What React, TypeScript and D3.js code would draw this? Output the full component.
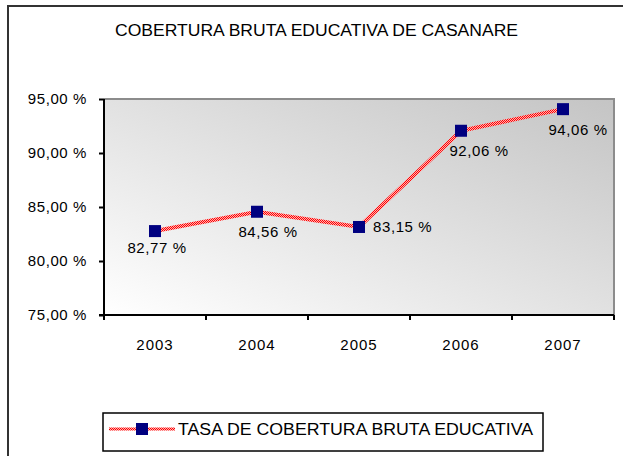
import { useEffect, useRef } from 'react';
import * as d3 from 'd3';

const years = ['2003', '2004', '2005', '2006', '2007'];
const coverage = [82.77, 84.56, 83.15, 92.06, 94.06];
const yTicks = [75, 80, 85, 90, 95];
const title = 'COBERTURA BRUTA EDUCATIVA DE CASANARE';
const seriesName = 'TASA DE COBERTURA BRUTA EDUCATIVA';

// label placement relative to each point (Excel labels were dragged by hand)
const labelOffsets = [
  { dx: 2, dy: 17, anchor: 'middle' },
  { dx: 11, dy: 20, anchor: 'middle' },
  { dx: 14, dy: 0, anchor: 'start' },
  { dx: 18, dy: 20, anchor: 'middle' },
  { dx: 15, dy: 21, anchor: 'middle' },
];

const pct = (v: number) => v.toFixed(2).replace('.', ',') + ' %';

export default function App() {
  const svgRef = useRef<SVGSVGElement>(null);

  useEffect(() => {
    if (!svgRef.current) return;
    const width = 623;
    const height = 456;
    const plot = { left: 104, right: 614, top: 99, bottom: 315 };
    const font = "Arial, 'Liberation Sans', sans-serif";

    const svg = d3.select(svgRef.current);
    svg.selectAll('*').remove();

    const defs = svg.append('defs');
    const grad = defs
      .append('linearGradient')
      .attr('id', 'plotBg')
      .attr('x1', 0)
      .attr('y1', 1)
      .attr('x2', 1)
      .attr('y2', 0);
    grad.append('stop').attr('offset', '0%').attr('stop-color', '#ffffff');
    grad.append('stop').attr('offset', '100%').attr('stop-color', '#c4c4c4');

    const pat = defs
      .append('pattern')
      .attr('id', 'redDither')
      .attr('patternUnits', 'userSpaceOnUse')
      .attr('width', 2)
      .attr('height', 2);
    pat.append('rect').attr('width', 2).attr('height', 2).attr('fill', '#ffb0b0');
    pat.append('rect').attr('width', 1).attr('height', 1).attr('fill', '#ff0000');
    pat.append('rect').attr('x', 1).attr('y', 1).attr('width', 1).attr('height', 1).attr('fill', '#ff0000');

    svg.append('rect').attr('width', width).attr('height', height).attr('fill', '#ffffff');

    // outer chart border (continues past the right and bottom of the image)
    svg
      .append('rect')
      .attr('x', 8)
      .attr('y', 6)
      .attr('width', width + 10)
      .attr('height', height + 10)
      .attr('fill', 'none')
      .attr('stroke', '#333')
      .attr('stroke-width', 2);

    svg
      .append('text')
      .attr('x', 115)
      .attr('y', 36)
      .attr('textLength', 403)
      .attr('lengthAdjust', 'spacingAndGlyphs')
      .attr('font-family', font)
      .attr('font-size', 16)
      .attr('fill', '#000')
      .text(title);

    const x = d3.scaleBand<string>().domain(years).range([plot.left, plot.right]).padding(0);
    const y = d3.scaleLinear().domain([75, 95]).range([plot.bottom, plot.top]);
    const cx = (d: string) => (x(d) ?? 0) + x.bandwidth() / 2;

    svg
      .append('rect')
      .attr('x', plot.left)
      .attr('y', plot.top)
      .attr('width', plot.right - plot.left)
      .attr('height', plot.bottom - plot.top)
      .attr('fill', 'url(#plotBg)');

    // top and right frame of the plot area
    svg
      .append('path')
      .attr('d', `M${plot.left},${plot.top}H${plot.right}V${plot.bottom}`)
      .attr('fill', 'none')
      .attr('stroke', '#8c8c8c')
      .attr('stroke-width', 2);

    const yAxis = svg
      .append('g')
      .attr('transform', `translate(${plot.left},0)`)
      .call(d3.axisLeft(y).tickValues(yTicks).tickSize(5).tickPadding(12).tickFormat((d) => pct(d as number)));
    yAxis.select('.domain').attr('stroke', '#000').attr('stroke-width', 2).attr('d', `M0,${plot.top}V${plot.bottom + 5}`);
    yAxis.selectAll('.tick line').attr('stroke', '#000').attr('stroke-width', 2);
    yAxis
      .selectAll('.tick text')
      .attr('font-family', font)
      .attr('font-size', 15)
      .attr('letter-spacing', 0.6)
      .attr('fill', '#000');

    const xAxis = svg
      .append('g')
      .attr('transform', `translate(0,${plot.bottom})`)
      .call(d3.axisBottom(x).tickSize(0).tickPadding(24));
    xAxis.select('.domain').attr('stroke', '#000').attr('stroke-width', 2).attr('d', `M${plot.left - 5},0H${plot.right}`);
    xAxis
      .selectAll('.tick text')
      .attr('font-family', font)
      .attr('font-size', 15)
      .attr('letter-spacing', 1)
      .attr('fill', '#000');
    xAxis
      .selectAll('line.boundary')
      .data([...years.map((d) => x(d) ?? 0), plot.right])
      .enter()
      .append('line')
      .attr('class', 'boundary')
      .attr('x1', (d) => d)
      .attr('x2', (d) => d)
      .attr('y1', 0)
      .attr('y2', 5)
      .attr('stroke', '#000')
      .attr('stroke-width', 2);

    const line = d3
      .line<number>()
      .x((_, i) => cx(years[i]))
      .y((d) => y(d));

    svg
      .append('path')
      .datum(coverage)
      .attr('d', line)
      .attr('fill', 'none')
      .attr('stroke', 'url(#redDither)')
      .attr('stroke-width', 4);

    svg
      .selectAll('rect.marker')
      .data(coverage)
      .enter()
      .append('rect')
      .attr('class', 'marker')
      .attr('x', (_, i) => cx(years[i]) - 6)
      .attr('y', (d) => y(d) - 6)
      .attr('width', 12)
      .attr('height', 12)
      .attr('fill', '#000080');

    svg
      .selectAll('text.value')
      .data(coverage)
      .enter()
      .append('text')
      .attr('class', 'value')
      .attr('x', (_, i) => cx(years[i]) + labelOffsets[i].dx)
      .attr('y', (d, i) => y(d) + labelOffsets[i].dy + 5)
      .attr('text-anchor', (_, i) => labelOffsets[i].anchor)
      .attr('font-family', font)
      .attr('font-size', 15)
      .attr('letter-spacing', 0.6)
      .attr('fill', '#000')
      .text((d) => pct(d));

    // legend
    const lg = svg.append('g');
    lg.append('rect')
      .attr('x', 103)
      .attr('y', 413)
      .attr('width', 440)
      .attr('height', 38)
      .attr('fill', '#fff')
      .attr('stroke', '#000')
      .attr('stroke-width', 1.5);
    lg.append('line')
      .attr('x1', 109)
      .attr('x2', 175)
      .attr('y1', 429)
      .attr('y2', 429)
      .attr('stroke', 'url(#redDither)')
      .attr('stroke-width', 3);
    lg.append('rect').attr('x', 136).attr('y', 423).attr('width', 12).attr('height', 12).attr('fill', '#000080');
    lg.append('text')
      .attr('x', 178)
      .attr('y', 435)
      .attr('textLength', 355)
      .attr('lengthAdjust', 'spacingAndGlyphs')
      .attr('font-family', font)
      .attr('font-size', 16)
      .attr('fill', '#000')
      .text(seriesName);
  }, []);

  return (
    <div style={{ position: 'absolute', left: 0, top: 0 }}>
      <svg ref={svgRef} width={623} height={456} style={{ display: 'block' }}></svg>
    </div>
  );
}
